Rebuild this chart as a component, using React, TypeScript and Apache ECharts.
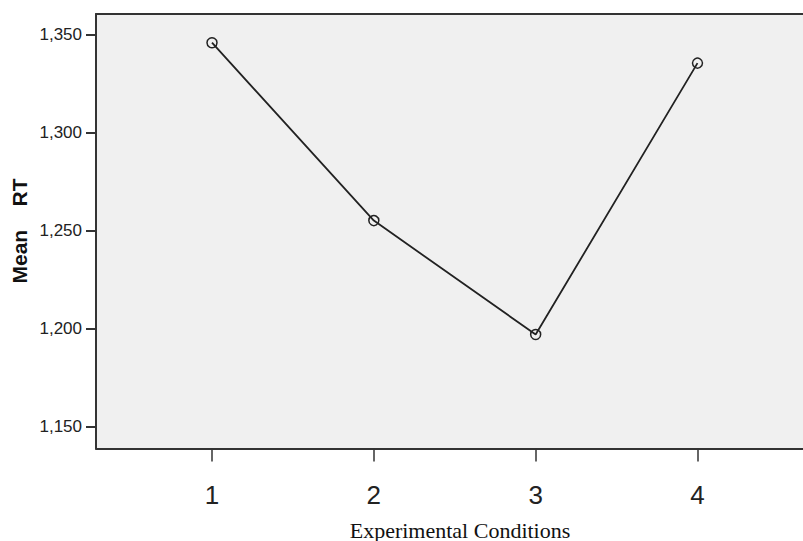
import React, { useEffect, useRef } from "react";
import * as echarts from "echarts";

const conditions = [1, 2, 3, 4];
const meanRT = [1345.8, 1255.1, 1197.0, 1335.4];
const yTicks = [1150, 1200, 1250, 1300, 1350];
const xTitle = "Experimental Conditions";
const yTitleParts = ["Mean", "RT"];

export default function App() {
  const ref = useRef<HTMLDivElement>(null);
  useEffect(() => {
    if (!ref.current) return;
    const chart = echarts.init(ref.current, null, { renderer: "svg" });
    const axisLineStyle = { color: "#333", width: 2 };
    chart.setOption({
      animation: false,
      backgroundColor: "#ffffff",
      grid: {
        left: 96,
        top: 14,
        right: 0,
        bottom: 92.5,
        show: true,
        backgroundColor: "#f0f0f0",
        borderWidth: 0,
      },
      xAxis: [
        {
          type: "value",
          min: 0.2832,
          max: 4.652,
          splitLine: { show: false },
          axisLine: { show: true, onZero: false, lineStyle: axisLineStyle },
          axisTick: {
            show: true,
            length: 13,
            customValues: conditions,
            lineStyle: { color: "#333", width: 1.5 },
          },
          axisLabel: {
            customValues: conditions,
            fontFamily: "Liberation Sans, Arial, sans-serif",
            fontSize: 26,
            color: "#222",
            margin: 33,
          },
        },
        {
          type: "value",
          position: "top",
          min: 0.2832,
          max: 4.652,
          splitLine: { show: false },
          axisLine: { show: true, onZero: false, lineStyle: axisLineStyle },
          axisTick: { show: false },
          axisLabel: { show: false },
        },
      ],
      yAxis: {
        type: "value",
        min: 1138.88,
        max: 1360.45,
        splitLine: { show: false },
        axisLine: { show: true, onZero: false, lineStyle: axisLineStyle },
        axisTick: {
          show: true,
          length: 10,
          customValues: yTicks,
          lineStyle: { color: "#333", width: 2 },
        },
        axisLabel: {
          customValues: yTicks,
          fontFamily: "Liberation Sans, Arial, sans-serif",
          fontSize: 17,
          color: "#222",
          margin: 14,
          formatter: (v: number) => Math.round(v).toLocaleString("en-US"),
        },
      },
      graphic: [
        {
          type: "text",
          x: 460,
          y: 530,
          style: {
            text: xTitle,
            fontFamily: "Liberation Serif, Times New Roman, serif",
            fontSize: 22,
            fill: "#111",
            textAlign: "center",
            textVerticalAlign: "middle",
          },
        },
        {
          type: "text",
          x: 19,
          y: 231,
          rotation: Math.PI / 2,
          style: {
            text: `{a|${yTitleParts[0]}}{g|  }{a|${yTitleParts[1]}}`,
            rich: {
              a: {
                fontFamily: "Liberation Sans, Arial, sans-serif",
                fontWeight: "bold",
                fontSize: 21,
                fill: "#111",
                color: "#111",
              },
              g: {
                fontFamily: "Liberation Sans, Arial, sans-serif",
                fontSize: 42,
              },
            },
            textAlign: "center",
            textVerticalAlign: "middle",
          },
        },
      ],
      series: [
        {
          type: "line",
          xAxisIndex: 0,
          data: conditions.map((c, i) => [c, meanRT[i]]),
          symbol: "circle",
          symbolSize: 10,
          showAllSymbol: true,
          itemStyle: { color: "rgba(0,0,0,0)", borderColor: "#222", borderWidth: 1.5 },
          lineStyle: { color: "#222", width: 1.8 },
          emphasis: { disabled: true },
        },
      ],
    });
    return () => chart.dispose();
  }, []);
  return (
    <div
      ref={ref}
      style={{ position: "fixed", left: 0, top: 0, width: 803, height: 541 }}
    />
  );
}
